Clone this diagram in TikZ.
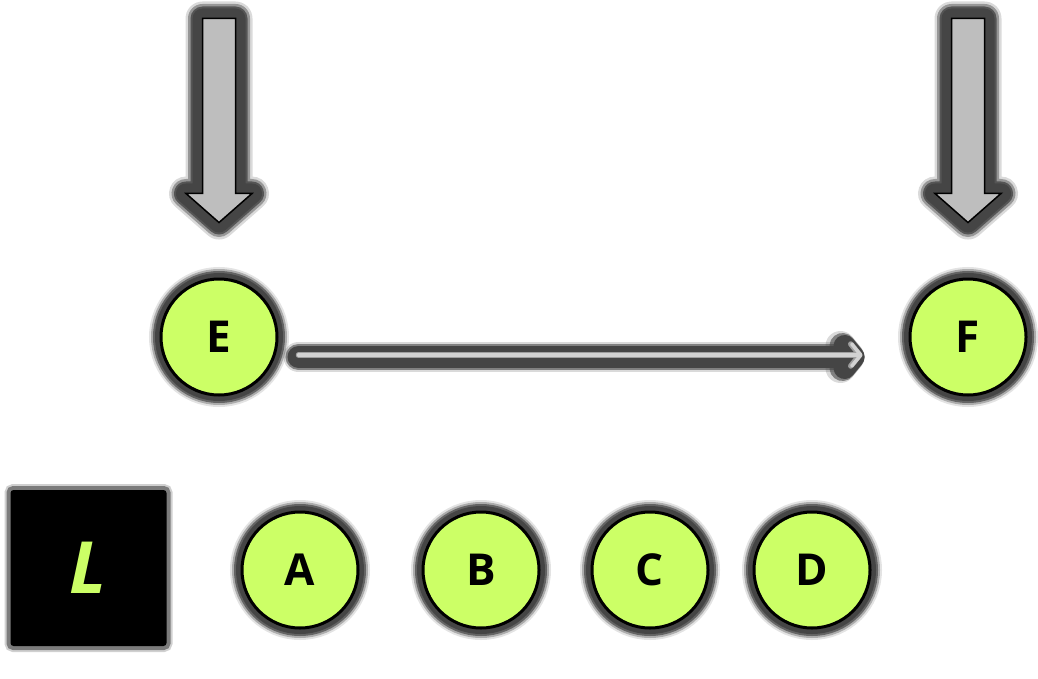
\documentclass[tikz,border=0pt]{standalone}
\usepackage{fontspec}
\setmainfont{Open Sans}
\usetikzlibrary{arrows.meta}
\definecolor{lime}{HTML}{CCFF66}
\definecolor{halo}{HTML}{454545}
\definecolor{shaft}{HTML}{BEBEBE}
\definecolor{wire}{HTML}{D2D2D2}

\tikzset{
  circglow/.style={
    preaction={draw=halo,draw opacity=0.15,line width=24pt},
    preaction={draw=halo,draw opacity=0.35,line width=20pt},
    preaction={draw=halo,draw opacity=0.7,line width=16pt},
    preaction={draw=halo,line width=12pt}},
  boxglow/.style={
    preaction={draw=halo,draw opacity=0.25,line width=12pt,rounded corners=6pt},
    preaction={draw=halo,draw opacity=0.6,line width=8pt,rounded corners=4pt}},
  arrowglow/.style={
    preaction={draw=halo,draw opacity=0.2,line width=34pt,line join=round},
    preaction={draw=halo,draw opacity=0.45,line width=29pt,line join=round},
    preaction={draw=halo,draw opacity=0.8,line width=24pt,line join=round},
    preaction={draw=halo,line width=20pt,line join=round}},
  ball/.style={circle, minimum size=116pt, inner sep=0pt, fill=lime,
    draw=black, line width=3pt, circglow,
    font=\bfseries\fontsize{44}{44}\selectfont},
  tag/.style={rectangle, minimum size=156pt, inner sep=0pt, fill=black,
    rounded corners=3pt, boxglow, text=lime,
    font=\bfseries\itshape\fontsize{72}{72}\selectfont},
  blockarrow/.style={fill=shaft, draw=black, line width=1.5pt,
    line join=miter, arrowglow},
  haloline/.style={halo, line cap=round, line join=round,
    -{Straight Barb[length=9pt,width=22pt,round]}},
}

\begin{document}
\begin{tikzpicture}[x=1pt,y=-1pt]
  \useasboundingbox (0,0) rectangle (1038,679);

  % nodes
  \node[ball] (E) at (219,337) {E};
  \node[ball] (F) at (968,337) {F};
  \node[tag]  (L) at (88.5,568) {L};
  \node[ball] (A) at (300,570) {A};
  \node[ball] (B) at (481,570) {B};
  \node[ball] (C) at (650,570) {C};
  \node[ball] (D) at (812,570) {D};

  % block arrows pointing down onto E and F
  \foreach \n in {E,F}{
    \begin{scope}[shift={(\n.north)}]
      \path[blockarrow]
        (-16.5,-259) -- (16.5,-259) -- (16.5,-84) -- (33,-84)
        -- (0,-55) -- (-33,-84) -- (-16.5,-84) -- cycle;
    \end{scope}
  }

  % connector E -> F: soft dark halo, then the light wire with an open tip
  \draw[haloline, line width=30pt, draw opacity=0.2]
    ([xshift=20pt,yshift=-20pt]E.east) -- ([xshift=-44pt,yshift=-20pt]F.west);
  \draw[haloline, line width=26pt, draw opacity=0.6]
    ([xshift=20pt,yshift=-20pt]E.east) -- ([xshift=-44pt,yshift=-20pt]F.west);
  \draw[haloline, line width=22pt]
    ([xshift=20pt,yshift=-20pt]E.east) -- ([xshift=-44pt,yshift=-20pt]F.west);
  \draw[gray!75, line width=5.5pt, line cap=round, line join=round,
        -{Straight Barb[length=9pt,width=22pt,round]}]
    ([xshift=20pt,yshift=-18pt]E.east) -- ([xshift=-46pt,yshift=-18pt]F.west);
  \draw[wire, line width=3.5pt, line cap=round, line join=round,
        -{Straight Barb[length=9pt,width=22pt,round]}]
    ([xshift=20pt,yshift=-18pt]E.east) -- ([xshift=-46pt,yshift=-18pt]F.west);
\end{tikzpicture}
\end{document}
